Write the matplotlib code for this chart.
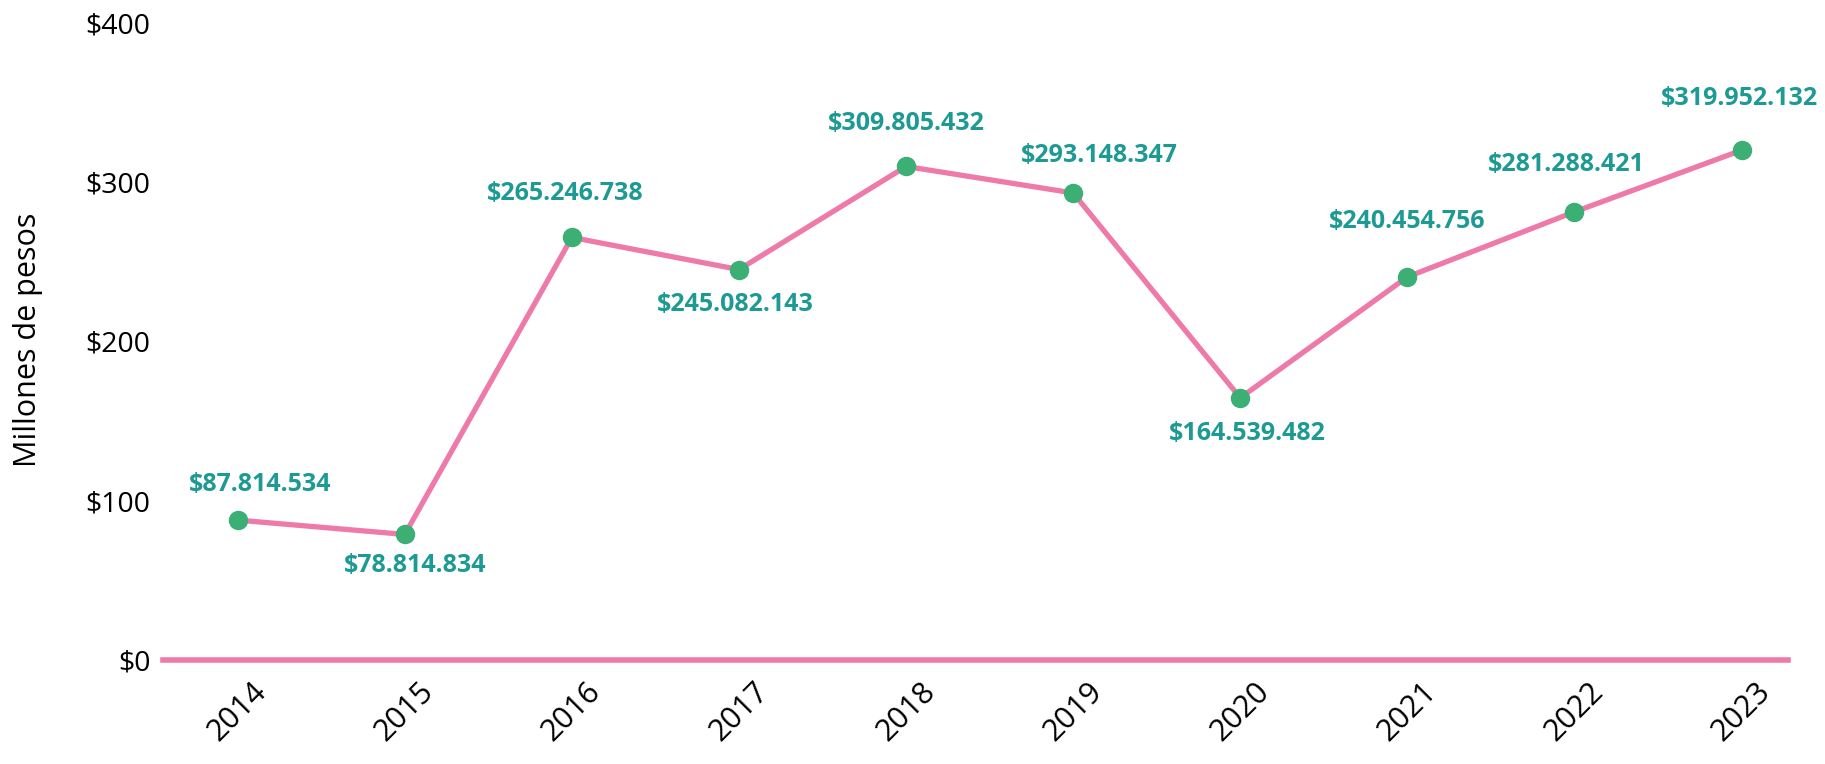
import matplotlib
matplotlib.use("Agg")
import matplotlib.pyplot as plt

plt.rcParams['font.family'] = ['Open Sans', 'DejaVu Sans']

# data (millones de pesos)
years = ['2014', '2015', '2016', '2017', '2018', '2019', '2020', '2021', '2022', '2023']
values = [87.814534, 78.814834, 265.246738, 245.082143, 309.805432,
          293.148347, 164.539482, 240.454756, 281.288421, 319.952132]
labels = ['$87.814.534', '$78.814.834', '$265.246.738', '$245.082.143', '$309.805.432',
          '$293.148.347', '$164.539.482', '$240.454.756', '$281.288.421', '$319.952.132']
yticks = [0, 100, 200, 300, 400]

# label offsets (pixels) relative to each point
offsets = [(22, 36), (10, -31), (-7, 44), (-4, -35), (0, 43),
           (26, 37), (7, -36), (0, 55), (-8, 47), (-2, 52)]

pink = '#EE7AA9'
green = '#3BAF74'
teal = '#1E9A94'

fig = plt.figure(figsize=(18.25, 7.64), dpi=100)
ax = fig.add_axes([163/1825, (764-660)/764, (1788-163)/1825, 650/764])

x = list(range(len(years)))
ax.plot(x, values, color=pink, lw=3.8, zorder=2)
ax.plot(x, values, 'o', color=green, markersize=13, zorder=3)

# baseline at zero
ax.axhline(0, color=pink, lw=4, clip_on=False, zorder=1)

for i in range(len(x)):
    dx, dy = offsets[i]
    ax.annotate(labels[i], (x[i], values[i]), xytext=(dx, dy), textcoords='offset pixels',
                ha='center', va='center', color=teal, fontsize=18, fontweight='bold')

ax.set_xlim(-0.447, 9.278)
ax.set_ylim(0, 408)
ax.set_xticks(x)
ax.set_xticklabels(years, rotation=45, ha='center')
ax.set_yticks(yticks)
ax.set_yticklabels(['$' + str(t) for t in yticks])
ax.tick_params(axis='y', length=0, pad=9, labelsize=20.5)
ax.tick_params(axis='x', length=0, pad=12, labelsize=22)
for s in ax.spines.values():
    s.set_visible(False)

fig.text(28/1825, 1 - 340/764, 'Millones de pesos', rotation=90, ha='center', va='center',
         fontsize=22)

plt.savefig('out.png', dpi=100)
